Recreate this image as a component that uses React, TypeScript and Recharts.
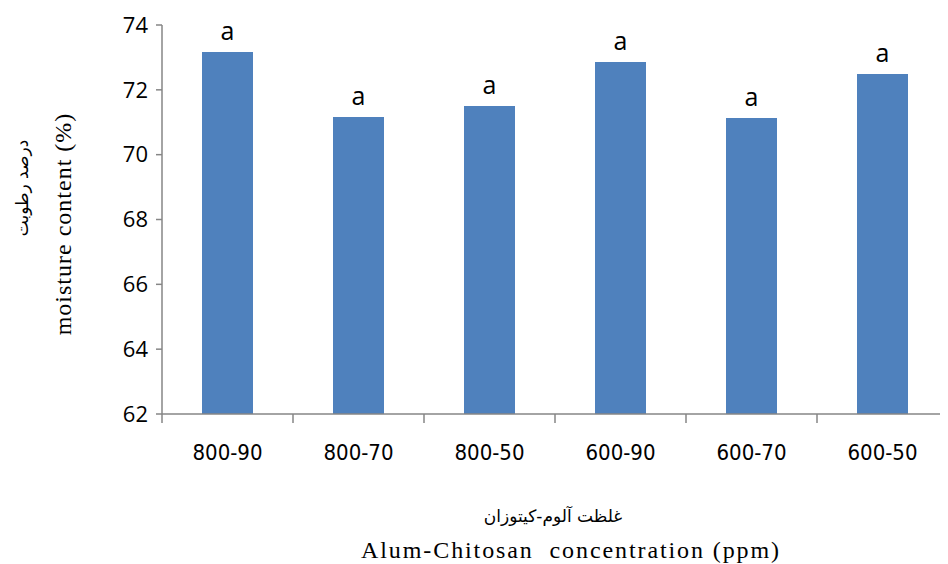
import React from "react";
import { BarChart, Bar, XAxis, YAxis, LabelList } from "recharts";

const categories = ["800-90", "800-70", "800-50", "600-90", "600-70", "600-50"];
const moisture = [73.17, 71.16, 71.5, 72.86, 71.13, 72.49];
const letters = ["a", "a", "a", "a", "a", "a"];
const yTicks = [62, 64, 66, 68, 70, 72, 74];

const data = categories.map((c, i) => ({ name: c, value: moisture[i], letter: letters[i] }));

const AXIS = "#868686";

const XTick = (props: any) => {
  const { x, y, payload, index, visibleTicksCount } = props;
  const half = payload && payload.offset ? payload.offset : 65.5;
  const isLast = index === (visibleTicksCount ?? 6) - 1;
  return (
    <g>
      <line x1={x - half} x2={x - half} y1={y - 8} y2={y + 1} stroke={AXIS} strokeWidth={1.5} />
      {isLast && (
        <line x1={x + half} x2={x + half} y1={y - 8} y2={y + 1} stroke={AXIS} strokeWidth={1.5} />
      )}
      <text
        x={x}
        y={y + 38}
        textAnchor="middle"
        fontFamily="'Liberation Sans Narrow', 'DejaVu Sans Condensed', sans-serif"
        fontSize={22}
        fill="#000"
      >
        {payload.value}
      </text>
    </g>
  );
};

export default function App() {
  return (
    <div style={{ position: "relative", width: 940, height: 556, background: "#fff" }}>
      <BarChart
        width={940}
        height={556}
        data={data}
        margin={{ top: 17, right: 0, bottom: 100, left: 84 }}
      >
        <XAxis
          dataKey="name"
          axisLine={{ stroke: AXIS, strokeWidth: 1.5 }}
          tickLine={false}
          tick={<XTick />}
          height={50}
          interval={0}
        />
        <YAxis
          domain={[62, 74]}
          ticks={yTicks}
          allowDataOverflow
          width={70}
          axisLine={{ stroke: AXIS, strokeWidth: 1.5 }}
          tickLine={{ stroke: AXIS, strokeWidth: 1.5 }}
          tickSize={6}
          tickMargin={8}
          tick={{ fill: "#000", fontSize: 22, fontFamily: "'Open Sans', sans-serif" }}
        />
        <Bar dataKey="value" fill="#4F81BD" barSize={51} isAnimationActive={false}>
          <LabelList
            dataKey="letter"
            position="top"
            offset={12}
            fill="#000"
            fontSize={25}
            fontFamily="'Open Sans', sans-serif"
          />
        </Bar>
      </BarChart>
      <div
        style={{
          position: "absolute",
          left: 14,
          top: 180,
          transform: "translate(-50%, -50%) rotate(-90deg)",
          whiteSpace: "nowrap",
          fontFamily: "'DejaVu Sans', 'Noto Sans', sans-serif",
          fontSize: 17,
          direction: "rtl",
        }}
      >
        درصد رطوبت
      </div>
      <div
        style={{
          position: "absolute",
          left: 55,
          top: 216,
          transform: "translate(-50%, -50%) rotate(-90deg)",
          whiteSpace: "nowrap",
          fontFamily: "'Liberation Serif', serif",
          fontSize: 24,
          letterSpacing: 1,
        }}
      >
        moisture content (%)
      </div>
      <div
        style={{
          position: "absolute",
          left: 545,
          top: 508,
          transform: "translate(-50%, -50%)",
          whiteSpace: "nowrap",
          fontFamily: "'DejaVu Sans', 'Noto Sans', sans-serif",
          fontSize: 17,
          direction: "rtl",
        }}
      >
        غلظت آلوم-کیتوزان
      </div>
      <div
        style={{
          position: "absolute",
          left: 563,
          top: 542,
          transform: "translate(-50%, -50%)",
          whiteSpace: "pre",
          fontFamily: "'Liberation Serif', serif",
          fontSize: 24,
          letterSpacing: 1.9,
        }}
      >
        {"Alum-Chitosan  concentration (ppm)"}
      </div>
    </div>
  );
}
